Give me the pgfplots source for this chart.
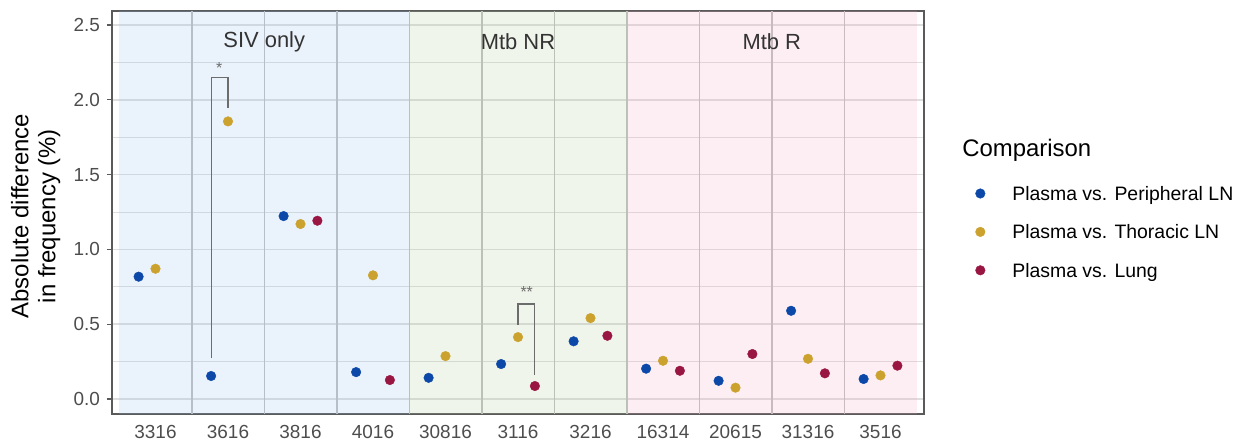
\documentclass[border=0pt]{standalone}
\usepackage{pgfplots}
\usepackage{pgfplotstable}
\pgfplotsset{compat=1.18}
\usepackage{fontspec}
\setmainfont{Liberation Sans}
\definecolor{cblue}{HTML}{0C48A8}
\definecolor{cyel}{HTML}{CBA22E}
\definecolor{cred}{HTML}{991642}
\definecolor{bandblue}{RGB}{150,190,235}
\definecolor{bandgreen}{RGB}{175,205,150}
\definecolor{bandpink}{RGB}{240,170,195}
\definecolor{gridc}{HTML}{DEDEDE}
\definecolor{tickc}{HTML}{4D4D4D}
\definecolor{framec}{HTML}{5A5A5A}

\pgfplotstableread{
x y
0.767 0.818
1.767 0.154
2.767 1.223
3.767 0.180
4.767 0.142
5.767 0.234
6.767 0.386
7.767 0.203
8.767 0.122
9.767 0.590
10.767 0.134
}\bluedata
\pgfplotstableread{
x y
1 0.871
2 1.856
3 1.170
4 0.827
5 0.287
6 0.414
7 0.541
8 0.256
9 0.076
10 0.269
11 0.158
}\yeldata
\pgfplotstableread{
x y
3.233 1.192
4.233 0.127
6.233 0.087
7.233 0.423
8.233 0.189
9.233 0.301
10.233 0.172
11.233 0.223
}\reddata

\begin{document}
\begin{tikzpicture}
\useasboundingbox (0,0) rectangle (620.5bp,221.5bp);
\begin{axis}[
  at={(56bp,14.5bp)}, anchor=south west,
  scale only axis, width=406bp, height=201.5bp,
  xmin=0.4, xmax=11.6, ymin=-0.1, ymax=2.594,
  xtick={1,...,11},
  xticklabels={3316,3616,3816,4016,30816,3116,3216,16314,20615,31316,3516},
  ytick={0,0.5,1,1.5,2,2.5},
  minor ytick={0.25,0.75,1.25,1.75,2.25},
  ytick pos=left,
  /pgf/number format/fixed, /pgf/number format/fixed zerofill, /pgf/number format/precision=1,
  /pgf/number format/assume math mode=true,
  x tick label style={font=\fontsize{9.5}{11}\selectfont, text=tickc, yshift=0.5bp},
  y tick label style={font=\fontsize{9.5}{11}\selectfont, text=tickc},
  x tick style={draw=none}, 
  y tick style={draw=framec, line width=0.6bp},
  major tick length=2.5bp, minor tick length=0pt,
  tick align=outside,
  ymajorgrids, yminorgrids,
  major grid style={draw=gridc, line width=0.75bp},
  minor grid style={draw=gridc, line width=0.4bp},
  axis line style={draw=framec, line width=0.8bp},
  ylabel={Absolute difference\\in frequency (\%)},
  ylabel style={at={(axis description cs:-0.094,0.491)}, anchor=center, align=center, font=\fontsize{12}{13.6}\selectfont},
  legend style={at={(axis description cs:1.0556,0.4474)}, anchor=west, draw=none, fill=none,
    font=\fontsize{9.75}{11}\selectfont, row sep=10bp, column sep=13.6bp,
    nodes={inner sep=0pt, text height=7.2bp, text depth=2bp, anchor=base west}},
  legend cell align=left,
  legend image code/.code={\draw[#1] plot coordinates {(0bp,3.5bp)};},
]
% category separators
\addplot[draw=gray!50, line width=0.75bp, forget plot] coordinates {(1.5,-0.1) (1.5,2.594)};
\addplot[draw=gray!50, line width=0.75bp, forget plot] coordinates {(2.5,-0.1) (2.5,2.594)};
\addplot[draw=gray!50, line width=0.75bp, forget plot] coordinates {(3.5,-0.1) (3.5,2.594)};
\addplot[draw=gray!50, line width=0.75bp, forget plot] coordinates {(4.5,-0.1) (4.5,2.594)};
\addplot[draw=gray!50, line width=0.75bp, forget plot] coordinates {(5.5,-0.1) (5.5,2.594)};
\addplot[draw=gray!50, line width=0.75bp, forget plot] coordinates {(6.5,-0.1) (6.5,2.594)};
\addplot[draw=gray!50, line width=0.75bp, forget plot] coordinates {(7.5,-0.1) (7.5,2.594)};
\addplot[draw=gray!50, line width=0.75bp, forget plot] coordinates {(8.5,-0.1) (8.5,2.594)};
\addplot[draw=gray!50, line width=0.75bp, forget plot] coordinates {(9.5,-0.1) (9.5,2.594)};
\addplot[draw=gray!50, line width=0.75bp, forget plot] coordinates {(10.5,-0.1) (10.5,2.594)};
% group bands
\addplot[draw=none, fill=bandblue, fill opacity=0.2, forget plot] coordinates {(0.5,-0.1) (4.5,-0.1) (4.5,2.594) (0.5,2.594)} -- cycle;
\addplot[draw=none, fill=bandgreen, fill opacity=0.2, forget plot] coordinates {(4.5,-0.1) (7.5,-0.1) (7.5,2.594) (4.5,2.594)} -- cycle;
\addplot[draw=none, fill=bandpink, fill opacity=0.2, forget plot] coordinates {(7.5,-0.1) (11.5,-0.1) (11.5,2.594) (7.5,2.594)} -- cycle;
% brackets
\addplot[draw=gray!85!black, line width=0.6bp, forget plot] coordinates {(1.767,0.274) (1.767,2.15) (2.0,2.15) (2.0,1.947)};
\addplot[draw=gray!85!black, line width=0.6bp, forget plot] coordinates {(6.0,0.495) (6.0,0.635) (6.233,0.635) (6.233,0.160)};
\node[font=\fontsize{8}{9}\selectfont, text=gray!85!black] at (axis cs:1.88,2.215) {*};
\node[font=\fontsize{8}{9}\selectfont, text=gray!85!black] at (axis cs:6.12,0.715) {**};
% group labels
\node[font=\fontsize{11}{13}\selectfont, text=black!80] at (axis cs:2.5,2.39) {SIV only};
\node[font=\fontsize{11}{13}\selectfont, text=black!80] at (axis cs:6,2.39) {Mtb NR};
\node[font=\fontsize{11}{13}\selectfont, text=black!80] at (axis cs:9.5,2.39) {Mtb R};
% data
\addplot[only marks, color=cblue, mark=*, mark size=2.4bp, mark options={draw=cblue, fill=cblue, line width=0.2bp}] table[x=x,y=y] {\bluedata};
\addlegendentry{Plasma vs. Peripheral LN}
\addplot[only marks, color=cyel, mark=*, mark size=2.4bp, mark options={draw=cyel, fill=cyel, line width=0.2bp}] table[x=x,y=y] {\yeldata};
\addlegendentry{Plasma vs. Thoracic LN}
\addplot[only marks, color=cred, mark=*, mark size=2.4bp, mark options={draw=cred, fill=cred, line width=0.2bp}] table[x=x,y=y] {\reddata};
\addlegendentry{Plasma vs. Lung}
\end{axis}
\node[anchor=west, font=\fontsize{12}{14}\selectfont, inner sep=0pt] at (481bp,146.5bp) {Comparison};
\end{tikzpicture}
\end{document}
